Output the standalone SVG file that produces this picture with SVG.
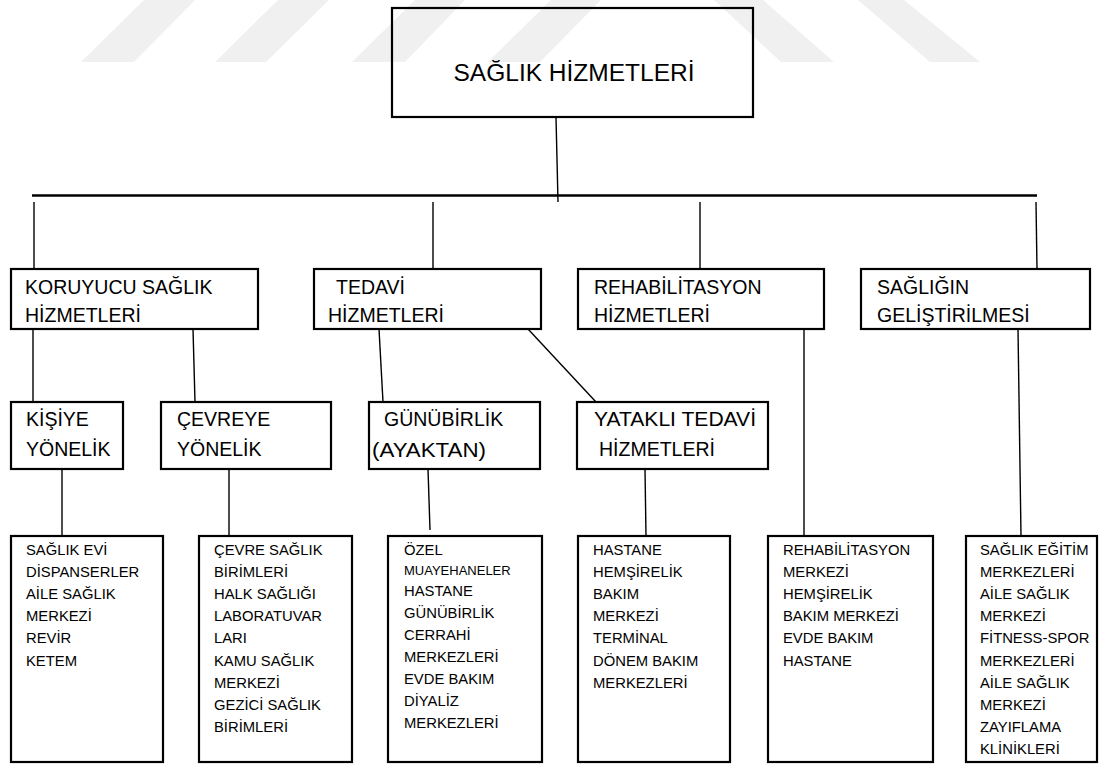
<svg xmlns="http://www.w3.org/2000/svg" width="1104" height="770" viewBox="0 0 1104 770">
<style>
.box{fill:none;stroke:#000;stroke-width:2.2}
.ln{stroke:#000;stroke-width:1.4;fill:none}
.hl{stroke:#000;stroke-width:2.6;fill:none}
.wm{fill:#f0f0f0}
text{font-family:"Liberation Sans",Arial,sans-serif;fill:#000}
.t1{font-size:24.5px}
.t2{font-size:19.5px}
.t4{font-size:14.8px}
.t5{font-size:13px}
</style>
<rect width="1104" height="770" fill="#fff"/>
<g id="watermark">
<polygon class="wm" points="81,62 134,62 195,0 144,0"/>
<polygon class="wm" points="215,62 266,62 329,0 278,0"/>
<polygon class="wm" points="352,62 405,62 465,0 415,0"/>
<polygon class="wm" points="488,62 540,62 601,0 551,0"/>
<polygon class="wm" points="714,0 763,0 834,62 781,62"/>
<polygon class="wm" points="858,0 904,0 980,62 930,62"/>
</g>
<g id="connectors">
<line class="ln" x1="556" y1="117" x2="558" y2="202"/>
<line class="hl" x1="32" y1="195.5" x2="1037" y2="195.5"/>
<line class="ln" x1="34" y1="202" x2="34" y2="269"/>
<line class="ln" x1="433" y1="202" x2="433" y2="269"/>
<line class="ln" x1="700" y1="202" x2="700" y2="269"/>
<line class="ln" x1="1036" y1="202" x2="1037" y2="269"/>
<line class="ln" x1="33" y1="329" x2="33" y2="402"/>
<line class="ln" x1="193" y1="329" x2="195" y2="402"/>
<line class="ln" x1="379" y1="329" x2="383" y2="402"/>
<line class="ln" x1="528" y1="329" x2="596" y2="402"/>
<line class="ln" x1="804" y1="329" x2="804" y2="536"/>
<line class="ln" x1="1018" y1="329" x2="1021" y2="536"/>
<line class="ln" x1="62" y1="469" x2="62" y2="536"/>
<line class="ln" x1="229" y1="469" x2="229" y2="536"/>
<line class="ln" x1="428" y1="469" x2="430" y2="530"/>
<line class="ln" x1="645" y1="469" x2="646" y2="536"/>
</g>
<g id="n-root">
<rect class="box" x="392" y="8" width="361" height="109"/>
<text class="t1" x="574" y="81" text-anchor="middle">SAĞLIK HİZMETLERİ</text>
</g>
<g id="n-koruyucu">
<rect class="box" x="11" y="269" width="247" height="60"/>
<text class="t2" x="25" y="294">KORUYUCU SAĞLIK</text>
<text class="t2" x="25" y="322">HİZMETLERİ</text>
</g>
<g id="n-tedavi">
<rect class="box" x="314" y="269" width="227" height="60"/>
<text class="t2" x="336" y="294">TEDAVİ</text>
<text class="t2" x="328" y="322">HİZMETLERİ</text>
</g>
<g id="n-rehab">
<rect class="box" x="578" y="269" width="246" height="60"/>
<text class="t2" x="594" y="294">REHABİLİTASYON</text>
<text class="t2" x="594" y="322">HİZMETLERİ</text>
</g>
<g id="n-gelistirme">
<rect class="box" x="861" y="269" width="229" height="60"/>
<text class="t2" x="877" y="294">SAĞLIĞIN</text>
<text class="t2" x="877" y="322">GELİŞTİRİLMESİ</text>
</g>
<g id="n-kisiye">
<rect class="box" x="11" y="402" width="112" height="67"/>
<text class="t2" x="26" y="426">KİŞİYE</text>
<text class="t2" x="26" y="456">YÖNELİK</text>
</g>
<g id="n-cevreye">
<rect class="box" x="161" y="402" width="170" height="67"/>
<text class="t2" x="177" y="426">ÇEVREYE</text>
<text class="t2" x="177" y="456">YÖNELİK</text>
</g>
<g id="n-gunubirlik">
<rect class="box" x="369" y="402" width="171" height="67"/>
<text class="t2" x="384" y="426">GÜNÜBİRLİK</text>
<text class="t2" x="372" y="457" textLength="114" lengthAdjust="spacingAndGlyphs">(AYAKTAN)</text>
</g>
<g id="n-yatakli">
<rect class="box" x="577" y="402" width="191" height="67"/>
<text class="t2" x="594" y="426" textLength="162" lengthAdjust="spacingAndGlyphs">YATAKLI TEDAVİ</text>
<text class="t2" x="599" y="456">HİZMETLERİ</text>
</g>
<g id="n-list1">
<rect class="box" x="11" y="536" width="152" height="226"/>
<text class="t4" x="26" y="555">SAĞLIK EVİ</text>
<text class="t4" x="26" y="577.1">DİSPANSERLER</text>
<text class="t4" x="26" y="599.2">AİLE SAĞLIK</text>
<text class="t4" x="26" y="621.3">MERKEZİ</text>
<text class="t4" x="26" y="643.4">REVİR</text>
<text class="t4" x="26" y="665.5">KETEM</text>
</g>
<g id="n-list2">
<rect class="box" x="199" y="536" width="153" height="226"/>
<text class="t4" x="214" y="555">ÇEVRE SAĞLIK</text>
<text class="t4" x="214" y="577.1">BİRİMLERİ</text>
<text class="t4" x="214" y="599.2">HALK SAĞLIĞI</text>
<text class="t4" x="214" y="621.3">LABORATUVAR</text>
<text class="t4" x="214" y="643.4">LARI</text>
<text class="t4" x="214" y="665.5">KAMU SAĞLIK</text>
<text class="t4" x="214" y="687.6">MERKEZİ</text>
<text class="t4" x="214" y="709.7">GEZİCİ SAĞLIK</text>
<text class="t4" x="214" y="731.8">BİRİMLERİ</text>
</g>
<g id="n-list3">
<rect class="box" x="388" y="536" width="154" height="226"/>
<text class="t4" x="404" y="555">ÖZEL</text>
<text class="t5" x="404" y="575">MUAYEHANELER</text>
<text class="t4" x="404" y="595.5">HASTANE</text>
<text class="t4" x="404" y="617.5">GÜNÜBİRLİK</text>
<text class="t4" x="404" y="639.5">CERRAHİ</text>
<text class="t4" x="404" y="661.5">MERKEZLERİ</text>
<text class="t4" x="404" y="683.5">EVDE BAKIM</text>
<text class="t4" x="404" y="705.5">DİYALİZ</text>
<text class="t4" x="404" y="727.5">MERKEZLERİ</text>
</g>
<g id="n-list4">
<rect class="box" x="578" y="536" width="152" height="226"/>
<text class="t4" x="593" y="555">HASTANE</text>
<text class="t4" x="593" y="577.1">HEMŞİRELİK</text>
<text class="t4" x="593" y="599.2">BAKIM</text>
<text class="t4" x="593" y="621.3">MERKEZİ</text>
<text class="t4" x="593" y="643.4">TERMİNAL</text>
<text class="t4" x="593" y="665.5">DÖNEM BAKIM</text>
<text class="t4" x="593" y="687.6">MERKEZLERİ</text>
</g>
<g id="n-list5">
<rect class="box" x="768" y="536" width="165" height="226"/>
<text class="t4" x="783" y="555">REHABİLİTASYON</text>
<text class="t4" x="783" y="577.1">MERKEZİ</text>
<text class="t4" x="783" y="599.2">HEMŞİRELİK</text>
<text class="t4" x="783" y="621.3">BAKIM MERKEZİ</text>
<text class="t4" x="783" y="643.4">EVDE BAKIM</text>
<text class="t4" x="783" y="665.5">HASTANE</text>
</g>
<g id="n-list6">
<rect class="box" x="966" y="536" width="131" height="226"/>
<text class="t4" x="980" y="555">SAĞLIK EĞİTİM</text>
<text class="t4" x="980" y="577.1">MERKEZLERİ</text>
<text class="t4" x="980" y="599.2">AİLE SAĞLIK</text>
<text class="t4" x="980" y="621.3">MERKEZİ</text>
<text class="t4" x="980" y="643.4">FİTNESS-SPOR</text>
<text class="t4" x="980" y="665.5">MERKEZLERİ</text>
<text class="t4" x="980" y="687.6">AİLE SAĞLIK</text>
<text class="t4" x="980" y="709.7">MERKEZİ</text>
<text class="t4" x="980" y="731.8">ZAYIFLAMA</text>
<text class="t4" x="980" y="753.9">KLİNİKLERİ</text>
</g>
</svg>
